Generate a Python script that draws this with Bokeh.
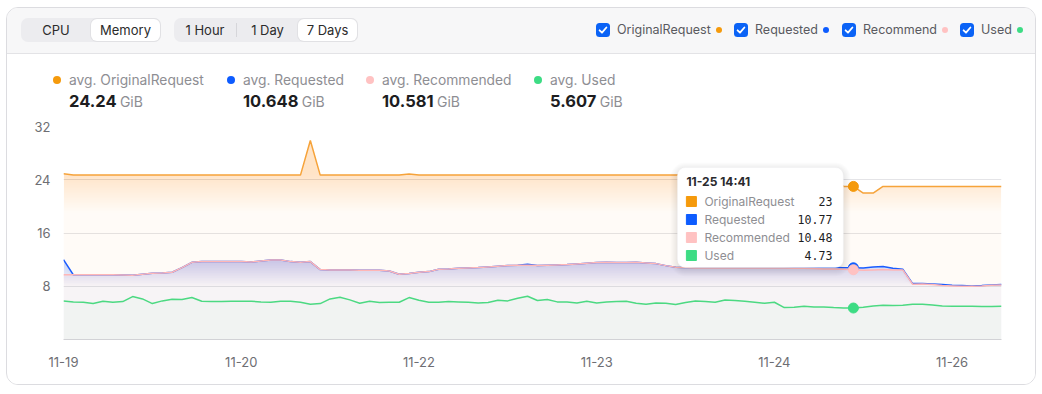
import numpy as np
from bokeh.plotting import figure
from bokeh.layouts import column
from bokeh.models import Div, FixedTicker, BoxAnnotation, Label, Range1d
from bokeh.embed import file_html
from bokeh.resources import INLINE

# ---------------- data ----------------
x_tick_labels = ["11-19", "11-20", "11-22", "11-23", "11-24", "11-26"]
y_ticks = [0, 8, 16, 24, 32]

original_request = [
    24.9, 24.7, 24.7, 24.7, 24.7, 24.7, 24.7, 24.7, 24.7, 24.7,
    24.7, 24.7, 24.7, 24.7, 24.7, 24.7, 24.7, 24.7, 24.7, 24.7,
    24.7, 24.7, 24.7, 24.7, 24.7, 29.9, 24.7, 24.7, 24.7, 24.7,
    24.7, 24.7, 24.7, 24.7, 24.7, 24.85, 24.7, 24.7, 24.7, 24.7,
    24.7, 24.7, 24.7, 24.7, 24.7, 24.7, 24.7, 24.7, 24.7, 24.7,
    24.7, 24.7, 24.7, 24.7, 24.7, 24.7, 24.7, 24.7, 24.7, 24.7,
    24.7, 24.7, 24.7, 24.7, 24.7, 24.7, 24.7, 24.7, 24.7, 24.7,
    24.7, 24.7, 24.7, 24.7, 24.7, 24.7, 24.7, 24.7, 24.7, 23.0,
    23.0, 22.0, 22.0, 23.0, 23.0, 23.0, 23.0, 23.0, 23.0, 23.0,
    23.0, 23.0, 23.0, 23.0, 23.0, 23.0,
]
requested = [
    12.0, 9.72, 9.72, 9.72, 9.72, 9.72, 9.7, 9.65, 9.8, 9.95,
    10.0, 10.1, 10.8, 11.6, 11.7, 11.7, 11.7, 11.7, 11.7, 11.65,
    11.8, 11.95, 11.95, 11.7, 11.6, 11.7, 10.5, 10.45, 10.45, 10.45,
    10.4, 10.4, 10.4, 10.3, 9.8, 9.9, 10.1, 10.2, 10.55, 10.6,
    10.7, 10.75, 10.8, 10.9, 11.0, 11.1, 11.15, 11.3, 11.1, 11.15,
    11.2, 11.25, 11.35, 11.45, 11.55, 11.6, 11.55, 11.55, 11.6, 11.5,
    11.4, 11.1, 10.85, 10.8, 10.8, 10.8, 10.8, 10.8, 10.8, 10.8,
    10.8, 10.8, 10.8, 10.8, 10.8, 10.8, 10.8, 10.8, 10.8, 10.77,
    10.77, 10.75, 10.9, 10.95, 10.7, 10.55, 8.4, 8.4, 8.35, 8.25,
    8.15, 8.1, 8.05, 8.1, 8.2, 8.25,
]
recommended = [
    9.72, 9.72, 9.72, 9.72, 9.72, 9.72, 9.7, 9.65, 9.8, 9.95,
    10.0, 10.1, 10.8, 11.6, 11.7, 11.7, 11.7, 11.7, 11.7, 11.65,
    11.8, 11.95, 11.95, 11.7, 11.6, 11.7, 10.5, 10.45, 10.45, 10.45,
    10.4, 10.4, 10.4, 10.3, 9.8, 9.9, 10.1, 10.2, 10.55, 10.6,
    10.7, 10.75, 10.8, 10.9, 11.0, 11.1, 11.15, 11.15, 11.1, 11.15,
    11.2, 11.25, 11.35, 11.45, 11.55, 11.6, 11.55, 11.55, 11.6, 11.5,
    11.4, 11.1, 10.85, 10.8, 10.75, 10.75, 10.75, 10.75, 10.75, 10.75,
    10.75, 10.75, 10.75, 10.75, 10.7, 10.7, 10.65, 10.6, 10.6, 10.55,
    10.48, 10.4, 10.45, 10.5, 10.45, 10.45, 8.3, 8.35, 8.25, 8.1,
    8.05, 8.0, 8.0, 8.05, 8.15, 8.2,
]
used = [
    5.8, 5.65, 5.6, 5.4, 5.75, 5.6, 5.7, 6.45, 6.1, 5.4,
    5.8, 6.05, 6.0, 6.3, 5.75, 5.7, 5.7, 5.75, 5.75, 5.75,
    5.65, 5.6, 5.75, 5.75, 5.6, 5.3, 5.4, 6.1, 6.35, 5.95,
    5.45, 5.75, 5.55, 5.6, 5.6, 6.3, 5.9, 5.6, 5.6, 5.7,
    5.65, 5.6, 5.5, 5.55, 5.9, 5.8, 6.2, 6.5, 5.85, 6.0,
    5.65, 5.65, 5.5, 5.75, 5.5, 5.65, 5.7, 5.75, 5.45, 5.3,
    5.5, 5.45, 5.25, 5.55, 5.8, 5.7, 5.6, 5.95, 5.85, 5.75,
    5.6, 5.45, 5.6, 4.8, 4.85, 5.0, 4.9, 4.9, 4.8, 4.75,
    4.73, 4.85, 5.05, 5.15, 5.1, 5.15, 5.3, 5.3, 5.2, 5.05,
    5.0, 5.0, 5.0, 4.95, 4.95, 5.0,
]

legend_names = ["OriginalRequest", "Requested", "Recommend", "Used"]
tooltip_names = ["OriginalRequest", "Requested", "Recommended", "Used"]
stat_names = ["avg. OriginalRequest", "avg. Requested", "avg. Recommended", "avg. Used"]
stat_values = ["24.24", "10.648", "10.581", "5.607"]
stat_unit = "GiB"
metric_buttons = ["CPU", "Memory"]
range_buttons = ["1 Hour", "1 Day", "7 Days"]
tooltip_time = "11-25 14:41"
tooltip_index = 80

# ---------------- style ----------------
C_ORANGE = "#f6a33a"
C_ORANGE_FILL = "#f59c3c"
C_BLUE = "#1a5cff"
C_PINK = "#ffb6b6"
C_GREEN = "#4cd982"
DOT_COLORS = ["#f59a0c", "#0d5cff", "#ffc2c2", "#3ddc84"]
FONT = "Inter"
AX_COLOR = "#6e6e73"

x = np.arange(len(original_request))
FW, FH = 938, 213
X0, X1 = 0, len(x) - 1
Y0, Y1 = 0, 32
dxp = (X1 - X0) / FW
dyp = (Y1 - Y0) / FH

# ---------------- header ----------------
def checkbox():
    return ('<span style="display:inline-block;position:relative;width:14px;height:14px;'
            'border-radius:3.5px;background:#0b63f6;flex:none">'
            '<svg width="14" height="14" viewBox="0 0 14 14" style="position:absolute;left:0;top:0">'
            '<path d="M3.6 7.3 L6.0 9.7 L10.4 4.5" stroke="#fff" stroke-width="1.8" fill="none" '
            'stroke-linecap="round" stroke-linejoin="round"/></svg></span>')

btn_txt = "font-size:13px;color:#2b2b2b;line-height:22px;text-align:center;position:absolute;top:1px;height:22px;"
g1 = ('<div style="position:absolute;left:14px;top:10px;width:140px;height:24px;background:#ececef;border-radius:7px">'
      f'<div style="{btn_txt}left:0;width:70px">{metric_buttons[0]}</div>'
      f'<div style="{btn_txt}left:70px;width:69px;background:#fff;border-radius:6px;box-shadow:0 0 0 1px #e1e1e4">{metric_buttons[1]}</div>'
      '</div>')
g2 = ('<div style="position:absolute;left:167px;top:10px;width:184px;height:24px;background:#ececef;border-radius:7px">'
      f'<div style="{btn_txt}left:0;width:62px">{range_buttons[0]}</div>'
      '<div style="position:absolute;left:62px;top:5px;width:1px;height:14px;background:#d6d6da"></div>'
      f'<div style="{btn_txt}left:63px;width:61px">{range_buttons[1]}</div>'
      f'<div style="{btn_txt}left:124px;width:59px;background:#fff;border-radius:6px;box-shadow:0 0 0 1px #e1e1e4">{range_buttons[2]}</div>'
      '</div>')
legend_lefts = [589, 727, 835, 953]
leg = ""
for lx, name, col in zip(legend_lefts, legend_names, DOT_COLORS):
    leg += (f'<div style="position:absolute;left:{lx}px;top:15px;height:14px;display:flex;align-items:center;white-space:nowrap">'
            f'{checkbox()}<span style="margin-left:7px;font-size:12.5px;color:#5a5a60;line-height:14px">{name}</span>'
            f'<span style="margin-left:5px;width:6px;height:6px;border-radius:50%;background:{col};display:inline-block"></span></div>')
header_html = (f'<div style="position:relative;width:1028px;height:46px;box-sizing:border-box;background:#f7f7f8;'
               f'border-bottom:1px solid #e3e3e6;font-family:{FONT},sans-serif">{g1}{g2}{leg}</div>')
header = Div(text=header_html, width=1028, height=46, margin=0)

# ---------------- stats ----------------
stat_lefts = [46, 220, 359, 527]
st = ""
for lx, name, val, col in zip(stat_lefts, stat_names, stat_values, DOT_COLORS):
    st += (f'<div style="position:absolute;left:{lx}px;top:0;height:64px">'
           f'<span style="position:absolute;left:0;top:22px;width:8px;height:8px;border-radius:50%;background:{col}"></span>'
           f'<span style="position:absolute;left:16px;top:16px;white-space:nowrap;font-size:13.8px;color:#8e8e93;line-height:20px">{name}</span>'
           f'<span style="position:absolute;left:16px;top:37px;white-space:nowrap;line-height:20px">'
           f'<b style="font-size:16.5px;color:#1d1d1f;font-weight:700">{val}</b> '
           f'<span style="font-size:14px;color:#8e8e93">{stat_unit}</span></span></div>')
stats_html = f'<div style="position:relative;width:1028px;height:64px;background:#fff;font-family:{FONT},sans-serif">{st}</div>'
stats = Div(text=stats_html, width=1028, height=64, margin=0)

# ---------------- chart ----------------
p = figure(width=1028, height=266, output_backend="svg", toolbar_location=None,
           x_range=Range1d(X0, X1), y_range=Range1d(Y0, Y1),
           frame_width=FW, frame_height=FH,
           min_border_left=56, min_border_right=34, min_border_top=8, min_border_bottom=45,
           background_fill_color="#ffffff", border_fill_color="#ffffff", outline_line_color=None)

p.xgrid.grid_line_color = None
p.ygrid.grid_line_color = "#e4e4e7"
p.ygrid.ticker = FixedTicker(ticks=y_ticks)

p.yaxis.ticker = FixedTicker(ticks=y_ticks)
p.yaxis.major_label_overrides = {y_ticks[0]: ""}
p.yaxis.axis_line_color = None
p.yaxis.major_tick_line_color = None
p.yaxis.minor_tick_line_color = None
p.yaxis.major_label_standoff = 7
p.yaxis.major_label_text_font = FONT
p.yaxis.major_label_text_font_size = "13px"
p.yaxis.major_label_text_color = AX_COLOR

tick_step = 18
xt = [i * tick_step for i in range(len(x_tick_labels))]
p.xaxis.ticker = FixedTicker(ticks=xt)
p.xaxis.major_label_overrides = {t: lab for t, lab in zip(xt, x_tick_labels)}
p.xaxis.axis_line_color = "#d2d2d6"
p.xaxis.major_tick_line_color = None
p.xaxis.minor_tick_line_color = None
p.xaxis.major_label_standoff = 11
p.xaxis.major_label_text_font = FONT
p.xaxis.major_label_text_font_size = "13px"
p.xaxis.major_label_text_color = AX_COLOR


def gradient_fill(y, color, stops, step=0.25):
    y = np.asarray(y, float)
    hs = np.arange(0, y.max() + step, step)
    A = np.interp(hs + step / 2, [s[0] for s in stops], [s[1] for s in stops])
    achieved = 0.0
    for h, a_tot in zip(hs, A):
        a = 1 - (1 - a_tot) / (1 - achieved)
        if a <= 0.0005:
            continue
        achieved = 1 - (1 - achieved) * (1 - a)
        p.varea(x=x, y1=y, y2=np.minimum(y, h), fill_color=color, fill_alpha=a)


gradient_fill(original_request, C_ORANGE_FILL,
              [(0, 0.04), (14, 0.04), (19, 0.065), (25, 0.22), (32, 0.22)])
gradient_fill(requested, C_BLUE, [(0, 0.035), (8, 0.05), (12, 0.2)])
gradient_fill(recommended, C_PINK, [(0, 0.01), (8, 0.03), (12, 0.25)])
gradient_fill(used, C_GREEN, [(0, 0.03), (6.5, 0.07)])

p.line(x, original_request, line_color=C_ORANGE, line_width=1.5)
p.line(x, used, line_color=C_GREEN, line_width=1.5)
p.line(x, requested, line_color=C_BLUE, line_width=1.5)
p.line(x, recommended, line_color=C_PINK, line_width=1.5)

# hovered point markers
ti = tooltip_index
series = [original_request, requested, recommended, used]
for s, col in zip(series, DOT_COLORS):
    p.scatter([ti], [s[ti]], size=10, fill_color=col, line_color=col)

# tooltip
t_left = ti - 176 * dxp
t_right = ti - 10 * dxp
t_top = Y1 - 41 * dyp
t_bottom = Y1 - 141 * dyp
for k in range(1, 8):
    p.add_layout(BoxAnnotation(left=t_left - k * dxp, right=t_right + k * dxp,
                               top=t_top + (k - 2) * dyp, bottom=t_bottom - (k + 2) * dyp,
                               fill_color="#000000", fill_alpha=0.012, line_color=None,
                               border_radius=8 + k))
p.add_layout(BoxAnnotation(left=t_left, right=t_right, top=t_top, bottom=t_bottom,
                           fill_color="#ffffff", fill_alpha=1.0, line_color="#ececef",
                           line_width=1, border_radius=8))
p.add_layout(Label(x=t_left + 9 * dxp, y=t_top - 14 * dyp, text=tooltip_time,
                   text_font=FONT, text_font_size="12px", text_font_style="bold",
                   text_color="#2a2a2e", text_baseline="middle", text_align="left"))
for k, (name, s, col) in enumerate(zip(tooltip_names, series, DOT_COLORS)):
    yy = t_top - (34 + 18 * k) * dyp
    r = p.scatter([t_left + 14 * dxp], [yy], marker="square", size=10,
                  fill_color=col, line_color=col)
    r.level = "overlay"
    p.add_layout(Label(x=t_left + 27 * dxp, y=yy, text=name, text_font=FONT,
                       text_font_size="12px", text_color="#8e8e93",
                       text_baseline="middle", text_align="left"))
    p.add_layout(Label(x=t_left + 155 * dxp, y=yy, text=f"{s[ti]:g}",
                       text_font="DejaVu Sans Mono", text_font_size="11.6px",
                       text_color="#1d1d1f", text_baseline="middle", text_align="right"))

layout = column(header, stats, p, margin=(7, 0, 0, 6),
                styles={"border": "1px solid #dcdce0", "border-radius": "12px",
                        "overflow": "hidden", "background": "#ffffff"})

open("out.html", "w").write(file_html(layout, INLINE))
